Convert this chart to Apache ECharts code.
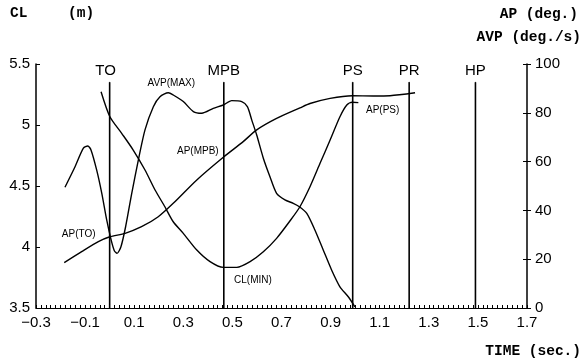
<!DOCTYPE html>
<html>
<head>
<meta charset="utf-8">
<script src="https://cdn.jsdelivr.net/npm/echarts@6/dist/echarts.min.js"></script>
<style>
html,body{margin:0;padding:0;background:#fff;}
#c{width:588px;height:364px;}
</style>
</head>
<body>
<div id="c"></div>
<script>
// ---- data (time in sec) ----
const clData = [[-0.035,5.273],[0.001,5.068],[0.049,4.932],[0.096,4.795],[0.144,4.631],[0.185,4.467],[0.225,4.330],[0.259,4.207],[0.300,4.112],[0.355,3.975],[0.409,3.880],[0.463,3.833],[0.518,3.833],[0.572,3.880],[0.626,3.961],[0.680,4.071],[0.735,4.215],[0.775,4.330],[0.816,4.494],[0.857,4.686],[0.898,4.877],[0.938,5.068],[0.966,5.164],[0.988,5.186],[1.013,5.183]];
const apData = [[-0.185,18.6],[-0.114,23.1],[-0.046,27.2],[0.001,29.2],[0.063,30.6],[0.130,33.3],[0.198,37.4],[0.259,42.9],[0.355,52.5],[0.463,61.8],[0.544,68.2],[0.599,73.0],[0.680,77.7],[0.775,82.0],[0.816,83.8],[0.898,85.9],[0.988,87.0],[1.074,86.9],[1.142,87.0],[1.244,88.2]];
const avpData = [[-0.182,49.5],[-0.141,57.9],[-0.107,65.5],[-0.089,66.4],[-0.076,64.8],[-0.053,56.6],[-0.032,47.0],[-0.012,36.1],[0.006,27.9],[0.019,23.5],[0.030,22.4],[0.046,25.1],[0.065,33.3],[0.090,47.0],[0.117,60.7],[0.144,73.0],[0.178,82.5],[0.205,86.6],[0.239,88.2],[0.259,87.3],[0.300,84.6],[0.341,80.5],[0.375,79.8],[0.422,81.8],[0.463,83.2],[0.497,85.0],[0.538,84.6],[0.561,82.5],[0.579,77.0],[0.599,70.9],[0.626,61.4],[0.653,53.8],[0.680,47.0],[0.714,44.3],[0.748,42.9],[0.773,41.5],[0.803,38.8],[0.836,32.0],[0.870,23.8],[0.904,15.6],[0.938,8.7],[0.972,4.6],[0.999,0.5]];
const eventNames = ['TO','MPB','PS','PR','HP'];
const eventTimes = [0.0, 0.465, 0.99, 1.22, 1.49];
const xMin = -0.3, xMax = 1.7, xStep = 0.2;
const clMin = 3.5, clMax = 5.5, clStep = 0.5;
const angMin = 0, angMax = 100, angStep = 20;
const eventLineTop = 5.35;
// annotation anchors: [text, seriesKey, time, value]
const annotations = [
  ['AVP(MAX)','avp',0.239,88.2],
  ['AP(TO)','ap',0.0,29.2],
  ['AP(MPB)','ap',0.465,61.8],
  ['AP(PS)','ap',0.99,87.0],
  ['CL(MIN)','cl',0.49,3.833]
];
const annotOffsets = {'AVP(MAX)':[3,-10],'AP(TO)':[-31,-3],'AP(MPB)':[-26,-6],'AP(PS)':[30,15],'CL(MIN)':[23,13]};
const eventLabelOffsets = {'TO':[-4,0]};

const FONT = 'Liberation Sans, Arial, sans-serif';
const MONO = 'Liberation Mono, Courier New, monospace';

function marks(key){
  return annotations.filter(a=>a[1]===key).map(a=>({
    name:a[0], coord:[a[2],a[3]], symbol:'circle', symbolSize:1,
    itemStyle:{color:'rgba(0,0,0,0)'},
    label:{show:true, formatter:a[0], position:'inside', offset:annotOffsets[a[0]],
      color:'#000', opacity:1, fontSize:10, fontFamily:FONT}
  }));
}

const chart = echarts.init(document.getElementById('c'), null, {renderer:'canvas'});
const lineStyle = {color:'#000', width:1.4};

const eventSeries = eventTimes.map((t,i)=>({
  name:eventNames[i], type:'line', yAxisIndex:0, silent:true,
  data:[[t, clMin],[t, eventLineTop]], symbol:'none',
  lineStyle:{color:'#000', width:1.6}
}));

chart.setOption({
  animation:false,
  backgroundColor:'#fff',
  grid:{left:36, right:61, top:64, bottom:56, containLabel:false},
  xAxis:{
    type:'value', min:xMin, max:xMax, interval:xStep,
    axisLine:{show:true, onZero:false, lineStyle:{color:'#000', width:1}},
    axisTick:{show:true, inside:true, length:3, lineStyle:{color:'#000'}},
    minorTick:{show:true, splitNumber:10, length:3, lineStyle:{color:'#000'}},
    splitLine:{show:false},
    axisLabel:{color:'#000', fontSize:15, fontFamily:FONT, margin:7,
      formatter:v=>(Math.round(v*10)/10).toFixed(1).replace('-','\u2212')}
  },
  yAxis:[{
    type:'value', min:clMin, max:clMax, interval:clStep, position:'left',
    axisLine:{show:true, onZero:false, lineStyle:{color:'#000', width:1.5}},
    axisTick:{show:true, inside:true, length:4, lineStyle:{color:'#000'}},
    splitLine:{show:false},
    axisLabel:{color:'#000', fontSize:15, fontFamily:FONT, margin:6}
  },{
    type:'value', min:angMin, max:angMax, interval:angStep, position:'right',
    axisLine:{show:true, onZero:false, lineStyle:{color:'#000', width:1.5}},
    axisTick:{show:true, inside:false, length:4, lineStyle:{color:'#000'}},
    splitLine:{show:false},
    axisLabel:{color:'#000', fontSize:15, fontFamily:FONT, margin:8}
  },{
    type:'value', min:angMin, max:angMax, interval:angStep, position:'right',
    axisLine:{show:false, onZero:false},
    axisTick:{show:true, inside:true, length:4, lineStyle:{color:'#000'}},
    splitLine:{show:false},
    axisLabel:{show:false}
  }],
  series:[{
    name:'CL', type:'line', yAxisIndex:0, data:clData, smooth:0.25,
    symbol:'none', lineStyle:lineStyle,
    markPoint:{data:marks('cl'), animation:false}
  },{
    name:'AP', type:'line', yAxisIndex:1, data:apData, smooth:0.25,
    symbol:'none', lineStyle:lineStyle,
    markPoint:{data:marks('ap'), animation:false}
  },{
    name:'AVP', type:'line', yAxisIndex:1, data:avpData, smooth:0.25,
    symbol:'none', lineStyle:lineStyle,
    markPoint:{data:marks('avp'), animation:false}
  }].concat(eventSeries).concat([{
    name:'eventLabels', type:'scatter', yAxisIndex:0, silent:true,
    data:eventTimes.map((t,i)=>({value:[t, eventLineTop, eventNames[i]],
      label:{offset:eventLabelOffsets[eventNames[i]] || [0,0]}})),
    symbolSize:1, itemStyle:{color:'#000', opacity:1},
    label:{show:true, position:'top', distance:3, formatter:p=>p.value[2],
      color:'#000', opacity:1, fontSize:15, fontFamily:FONT}
  }]),
  graphic:[
    {type:'text', left:10, top:6, style:{text:'CL', font:'bold 14.5px '+MONO, fill:'#000'}},
    {type:'text', left:68, top:6, style:{text:'(m)', font:'bold 14.5px '+MONO, fill:'#000'}},
    {type:'text', right:10, top:7, style:{text:'AP (deg.)', font:'bold 14.5px '+MONO, fill:'#000'}},
    {type:'text', right:7, top:30, style:{text:'AVP (deg./s)', font:'bold 14.5px '+MONO, fill:'#000'}},
    {type:'text', right:7, top:344, style:{text:'TIME (sec.)', font:'bold 14.5px '+MONO, fill:'#000'}}
  ]
});
</script>
</body>
</html>
